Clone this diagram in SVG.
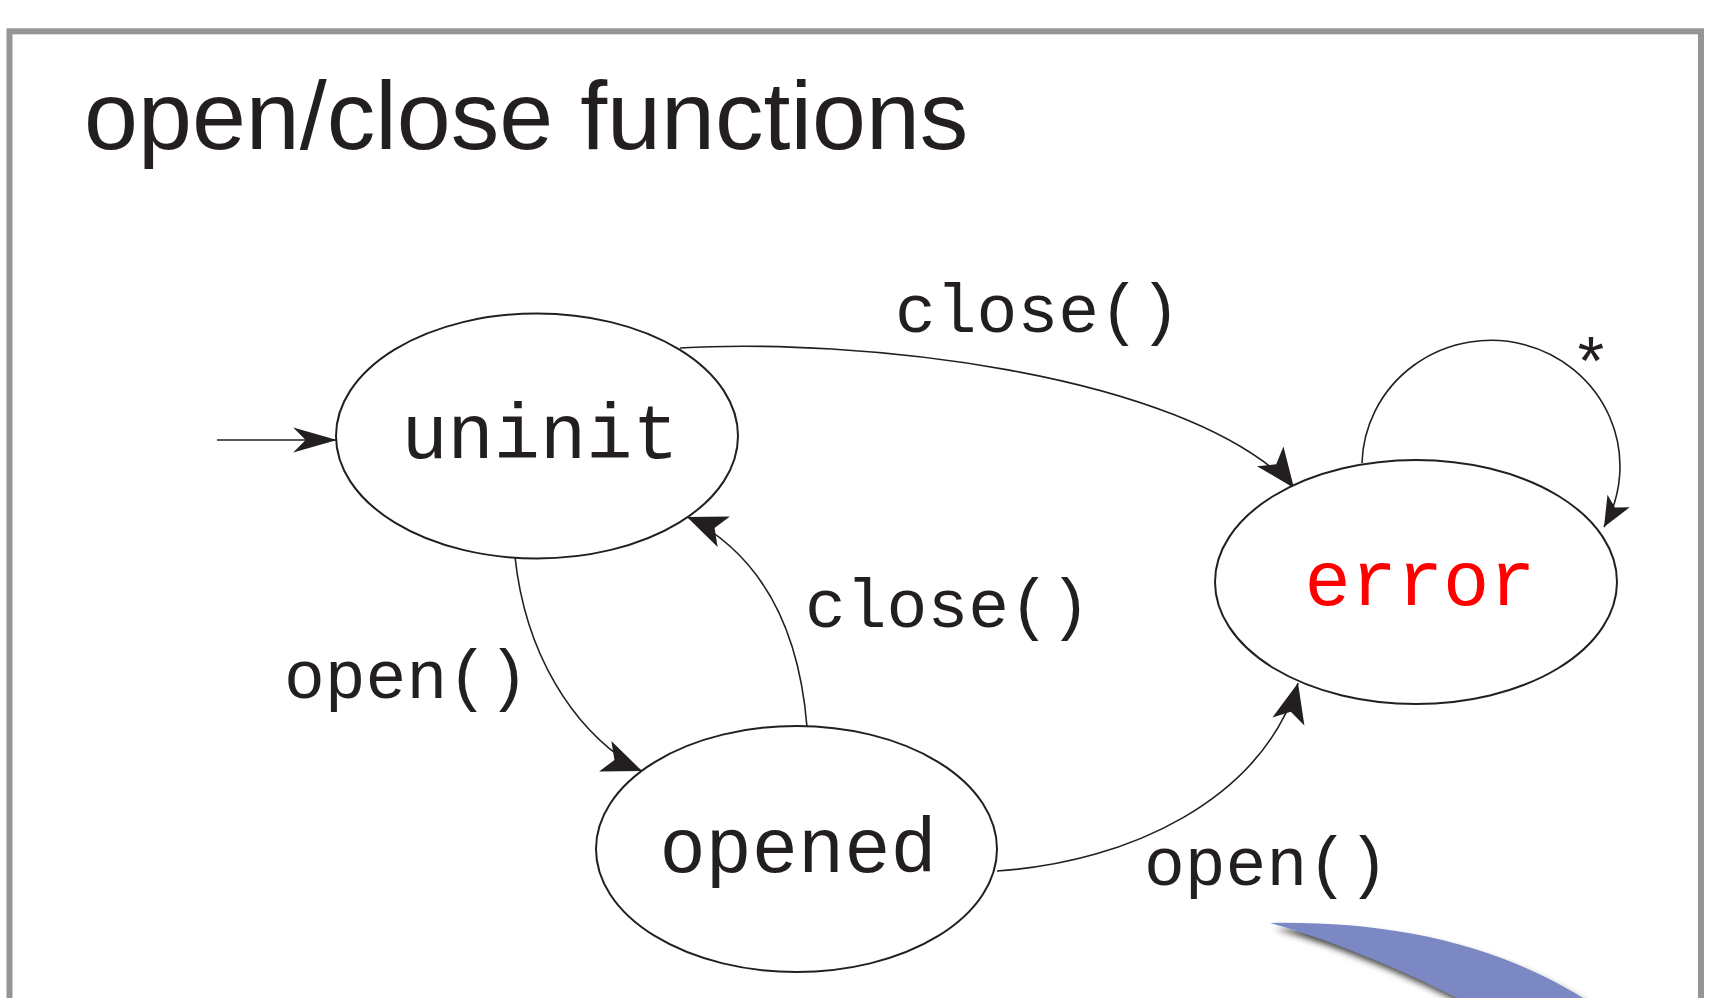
<svg xmlns="http://www.w3.org/2000/svg" width="1712" height="998" viewBox="0 0 1712 998">
<style>
.node{fill:#ffffff;stroke:#231f20;stroke-width:2}
.ntext{font-family:"Liberation Mono","DejaVu Sans Mono",monospace;font-size:77px;fill:#231f20;text-anchor:middle}
.lbl{font-family:"Liberation Mono","DejaVu Sans Mono",monospace;font-size:68px;fill:#231f20}
.edge{fill:none;stroke:#231f20;stroke-width:1.6}
.head{fill:#231f20}
</style>
<defs>
<marker id="arr" markerUnits="userSpaceOnUse" markerWidth="44" markerHeight="36" viewBox="-38 -16 40 32" refX="0" refY="0" orient="auto">
<path class="head" d="M0,0 L-36,-15 L-27,0 L-36,15 Z"/>
</marker>
<marker id="arr-init" markerUnits="userSpaceOnUse" markerWidth="48" markerHeight="30" viewBox="-44 -14 46 28" refX="0" refY="0" orient="auto">
<path class="head" d="M0,0 L-42,-12 L-30,0 L-42,12 Z"/>
</marker>
<marker id="arr-small" markerUnits="userSpaceOnUse" markerWidth="34" markerHeight="28" viewBox="-30 -13 32 26" refX="0" refY="0" orient="auto">
<path class="head" d="M0,0 L-28,-12 L-21,0 L-28,12 Z"/>
</marker>
<filter id="shadow" x="-20%" y="-50%" width="140%" height="200%">
<feDropShadow dx="5" dy="6" stdDeviation="3" flood-color="#2a2a2a" flood-opacity="0.85"/>
</filter>
</defs>
<rect x="0" y="0" width="1712" height="998" fill="#ffffff"/>
<rect x="9.5" y="31.3" width="1691.5" height="1100" fill="#ffffff" stroke="#939598" stroke-width="6"/>
<text x="84" y="149" font-family="'Liberation Sans',Arial,sans-serif" font-size="97" fill="#231f20">open/close functions</text>

<g id="connectors">
<path class="edge" d="M217,440 L337,440" stroke-width="2" marker-end="url(#arr-init)"/>
<path class="edge" d="M680,348 C850,338 1180,370 1293.4,487.2 L1294,488" marker-end="url(#arr)"/>
<path class="edge" d="M515,557 C525,650 570,730 641,770.6 L642,771" marker-end="url(#arr)"/>
<path class="edge" d="M807,727 C800,640 770,560 688,517.4 L687,517" marker-end="url(#arr)"/>
<path class="edge" d="M997,871 C1130,862 1260,800 1297.8,683.8 L1298,683" marker-end="url(#arr)"/>
<path class="edge" d="M1362,463 A129,126 0 1 1 1604,527" marker-end="url(#arr-small)"/>
<text class="lbl" x="895" y="332">close()</text>
<text class="lbl" x="805" y="627">close()</text>
<text class="lbl" x="284" y="698">open()</text>
<text class="lbl" x="1144" y="885">open()</text>
<text class="lbl" x="1591" y="387" text-anchor="middle">*</text>
</g>

<g id="node-uninit">
<ellipse class="node" cx="537" cy="436" rx="201" ry="122.5"/>
<text class="ntext" x="540" y="458">uninit</text>
</g>
<g id="node-opened">
<ellipse class="node" cx="796.5" cy="849" rx="200.5" ry="123"/>
<text class="ntext" x="798" y="872">opened</text>
</g>
<g id="node-error">
<ellipse class="node" cx="1416" cy="582" rx="201" ry="122"/>
<text class="ntext" x="1420" y="605" style="fill:#ff0000">error</text>
</g>

<path d="M1270,923 C1380,921 1490,940 1583,998 L1457,998 C1400,968 1320,936 1270,923 Z" fill="#7b88c4" filter="url(#shadow)"/>
</svg>
